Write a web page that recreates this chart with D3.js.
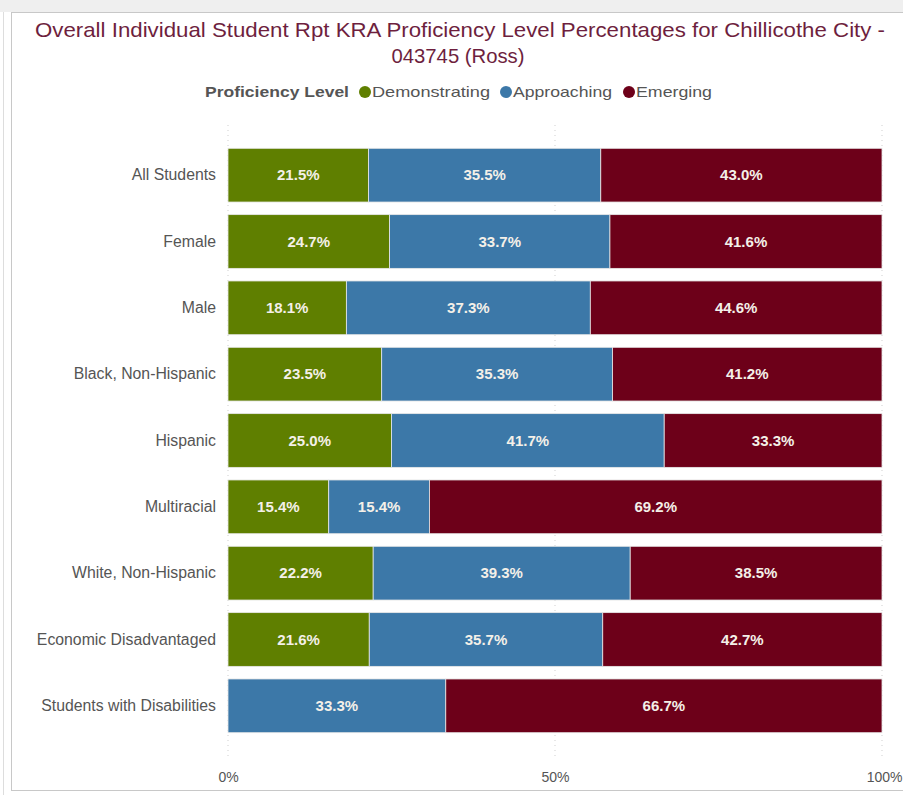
<!DOCTYPE html>
<html>
<head>
<meta charset="utf-8">
<script src="https://cdn.jsdelivr.net/npm/d3@7"></script>
<style>
  body { margin: 0; background: #fff; }
  svg { display: block; font-family: "Liberation Sans", Arial, sans-serif; }
</style>
</head>
<body>
<svg id="chart" width="903" height="795"></svg>
<script>
const categories = [
  'All Students', 'Female', 'Male', 'Black, Non-Hispanic', 'Hispanic',
  'Multiracial', 'White, Non-Hispanic', 'Economic Disadvantaged', 'Students with Disabilities'
];
const levels = ['Demonstrating', 'Approaching', 'Emerging'];
const demonstrating = [21.5, 24.7, 18.1, 23.5, 25.0, 15.4, 22.2, 21.6, 0];
const approaching = [35.5, 33.7, 37.3, 35.3, 41.7, 15.4, 39.3, 35.7, 33.3];
const emerging = [43.0, 41.6, 44.6, 41.2, 33.3, 69.2, 38.5, 42.7, 66.7];
const xTicks = [0, 50, 100];

const svg = d3.select('#chart');
const W = 903, H = 795;

// panel frame
svg.append('rect').attr('x', 0).attr('y', 0).attr('width', W).attr('height', 12).attr('fill', '#efefef');
svg.append('line').attr('x1', 3.5).attr('x2', 3.5).attr('y1', 12).attr('y2', H).attr('stroke', '#ddd');
svg.append('rect').attr('x', 11.5).attr('y', 12.5).attr('width', W).attr('height', 778)
  .attr('fill', '#fff').attr('stroke', '#c8c8c8');

// title
const title = svg.append('g').attr('fill', '#6e1f3e').attr('text-anchor', 'middle').attr('font-size', 21);
title.append('text').attr('x', 460).attr('y', 37)
  .attr('textLength', 850).attr('lengthAdjust', 'spacingAndGlyphs')
  .text('Overall Individual Student Rpt KRA Proficiency Level Percentages for Chillicothe City -');
title.append('text').attr('x', 458).attr('y', 63)
  .attr('textLength', 133).attr('lengthAdjust', 'spacingAndGlyphs')
  .text('043745 (Ross)');

const color = d3.scaleOrdinal().domain(levels).range(['#5f7f00', '#3c78a8', '#6d0019']);

// legend
const leg = svg.append('g').attr('font-size', 15).attr('fill', '#555');
leg.append('text').attr('x', 205).attr('y', 97).attr('font-weight', 'bold')
  .attr('textLength', 144).attr('lengthAdjust', 'spacingAndGlyphs').text('Proficiency Level');
const legX = [365, 506, 629];
const legW = [118, 99, 76];
levels.forEach((l, i) => {
  leg.append('circle').attr('cx', legX[i]).attr('cy', 92).attr('r', 6).attr('fill', color(l));
  leg.append('text').attr('x', legX[i] + 7).attr('y', 97)
    .attr('textLength', legW[i]).attr('lengthAdjust', 'spacingAndGlyphs').text(l);
});

const x = d3.scaleLinear().domain([0, 100]).range([228, 882]);
const y = d3.scaleBand().domain(categories).range([142, 739]).paddingInner(0.19).paddingOuter(0.095);

// gridlines
svg.append('g').selectAll('line').data(xTicks).enter().append('line')
  .attr('x1', d => x(d)).attr('x2', d => x(d))
  .attr('y1', 125).attr('y2', 758)
  .attr('stroke', '#cfcfcf').attr('stroke-dasharray', '1,4');

// x axis
const xAxis = svg.append('g').attr('transform', 'translate(0,760)')
  .call(d3.axisBottom(x).tickValues(xTicks).tickFormat(d => d + '%').tickSize(0).tickPadding(12));
xAxis.select('.domain').remove();
xAxis.selectAll('text').attr('font-size', 14).attr('fill', '#555').attr('font-family', 'Liberation Sans, Arial, sans-serif');
xAxis.selectAll('.tick').filter(d => d === 100).select('text').attr('text-anchor', 'end').attr('dx', 20);

// y axis
const yAxis = svg.append('g').attr('transform', 'translate(216,0)')
  .call(d3.axisLeft(y).tickSize(0).tickPadding(0));
yAxis.select('.domain').remove();
yAxis.selectAll('text').attr('font-size', 15.8).attr('fill', '#555').attr('font-family', 'Liberation Sans, Arial, sans-serif');

// stacked bars
const rows = categories.map((c, i) => ({ cat: c, Demonstrating: demonstrating[i], Approaching: approaching[i], Emerging: emerging[i] }));
const series = d3.stack().keys(levels)(rows);

const layers = svg.append('g').selectAll('g.layer').data(series).enter().append('g')
  .attr('class', 'layer').attr('fill', d => color(d.key));
layers.selectAll('rect').data(d => d.filter(p => p[1] - p[0] > 0)).enter().append('rect')
  .attr('x', d => x(d[0]))
  .attr('y', d => y(d.data.cat))
  .attr('width', d => x(d[1]) - x(d[0]))
  .attr('height', y.bandwidth())
  .attr('stroke', '#e8e8e8').attr('stroke-width', 0.8);

layers.selectAll('text').data(d => d.filter(p => p[1] - p[0] > 0)).enter().append('text')
  .attr('x', d => (x(d[0]) + x(d[1])) / 2)
  .attr('y', d => y(d.data.cat) + y.bandwidth() / 2)
  .attr('dy', '0.35em')
  .attr('text-anchor', 'middle')
  .attr('fill', '#f4f0e8')
  .attr('font-size', 15)
  .attr('font-weight', 'bold')
  .text(d => (d[1] - d[0]).toFixed(1) + '%');
</script>
</body>
</html>
